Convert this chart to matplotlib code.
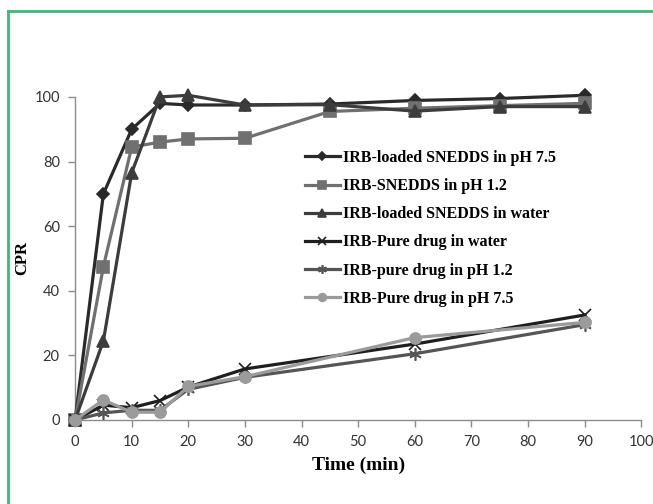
import matplotlib
matplotlib.use("Agg")
import matplotlib.pyplot as plt
from matplotlib.lines import Line2D

# Dissolution data (time in min, cumulative percent release)
time_snedds = [0, 5, 10, 15, 20, 30, 45, 60, 75, 90]
snedds_ph75 = [0, 70, 90, 98, 97.5, 97.5, 97.8, 98.9, 99.5, 100.5]
snedds_ph12 = [0, 47.5, 84.5, 86, 87, 87.2, 95.5, 96.5, 97.3, 98]
snedds_water = [0, 24.5, 76.5, 100, 100.5, 97.5, 97.6, 95.6, 97, 97]

time_pure = [0, 5, 10, 15, 20, 30, 60, 90]
pure_water = [0, 4.6, 3.8, 6, 10.2, 15.8, 23.5, 32.5]
pure_ph12 = [0, 2.2, 3, 3, 9.5, 13.2, 20.5, 29.5]
pure_ph75 = [0, 6.2, 2.4, 2.4, 10.4, 13.4, 25.5, 30.2]

labels = [
    "IRB-loaded SNEDDS in pH 7.5",
    "IRB-SNEDDS in pH 1.2",
    "IRB-loaded SNEDDS in water",
    "IRB-Pure drug in water",
    "IRB-pure drug in pH 1.2",
    "IRB-Pure drug in pH 7.5",
]

fig = plt.figure(figsize=(6.53, 5.04), dpi=100)
ax = fig.add_axes([0.115, 0.1667, 0.867, 0.641])

styles = [
    (time_snedds, snedds_ph75, "#2a2a2a", "D", 6),
    (time_snedds, snedds_ph12, "#707070", "s", 8),
    (time_snedds, snedds_water, "#3c3c3c", "^", 8),
    (time_pure, pure_water, "#1e1e1e", "x", 9),
    (time_pure, pure_ph12, "#555555", (6, 2, 0), 9),
    (time_pure, pure_ph75, "#9b9b9b", "o", 8),
]
for (t, v, c, m, ms), lab in zip(styles, labels):
    ax.plot(t, v, color=c, marker=m, markersize=ms, linewidth=2.3,
            markeredgewidth=1.2, label=lab, clip_on=False, zorder=3)

ax.set_xlim(0, 100)
ax.set_ylim(0, 100)
ax.set_xticks(range(0, 101, 10))
ax.set_yticks(range(0, 101, 20))
for s in ("top", "right"):
    ax.spines[s].set_visible(False)
for s in ("left", "bottom"):
    ax.spines[s].set_color("#8c8c8c")
    ax.spines[s].set_linewidth(1.0)
ax.tick_params(direction="out", length=5, color="#8c8c8c", width=1,
               labelsize=10.5, labelcolor="#333333", pad=6)
for lbl in ax.get_xticklabels() + ax.get_yticklabels():
    lbl.set_family("Lato")

ax.set_xlabel("Time (min)", family="Liberation Serif", fontweight="bold",
              fontsize=14)
ax.xaxis.set_label_coords(0.5, -0.115)
ax.set_ylabel("CPR", family="Liberation Serif", fontweight="bold",
              fontsize=12)
ax.yaxis.set_label_coords(-0.08, 0.5)

ax.legend(loc="upper left", bbox_to_anchor=(0.38, 0.88), frameon=False,
          prop={"family": "Liberation Serif", "weight": "bold", "size": 11.5},
          handlelength=2.2, handletextpad=0.2, labelspacing=0.76,
          markerscale=0.7)

# green frame around the figure (top and left edges visible)
green = "#3dba74"
fig.add_artist(Line2D([8 / 653, 1.0], [1 - 11 / 504, 1 - 11 / 504],
                      transform=fig.transFigure, color=green, linewidth=2))
fig.add_artist(Line2D([8 / 653, 8 / 653], [0, 1 - 11 / 504],
                      transform=fig.transFigure, color=green, linewidth=2))

fig.savefig("out.png", dpi=100)
plt.close(fig)
